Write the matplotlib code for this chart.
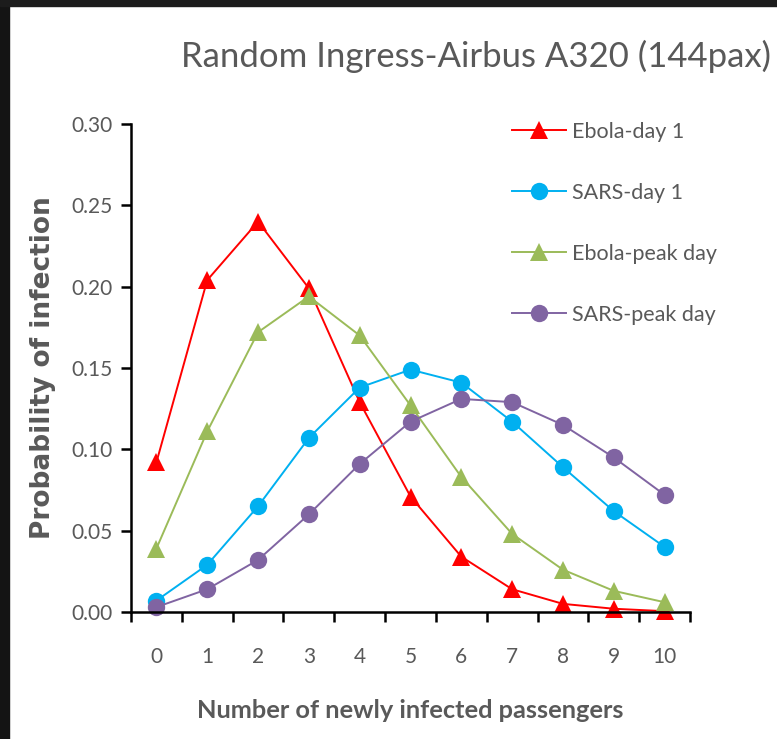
import numpy as np
import matplotlib
matplotlib.use("Agg")
import matplotlib.pyplot as plt
from matplotlib.patches import Rectangle

# values
passengers = [0, 1, 2, 3, 4, 5, 6, 7, 8, 9, 10]
ebola_day1 = [0.092, 0.204, 0.240, 0.199, 0.129, 0.071, 0.034, 0.014, 0.005, 0.002, 0.0005]
sars_day1 = [0.007, 0.029, 0.065, 0.107, 0.138, 0.149, 0.141, 0.117, 0.089, 0.062, 0.040]
ebola_peak = [0.039, 0.111, 0.172, 0.194, 0.170, 0.127, 0.083, 0.048, 0.026, 0.013, 0.006]
sars_peak = [0.003, 0.014, 0.032, 0.060, 0.091, 0.117, 0.131, 0.129, 0.115, 0.095, 0.072]
yticks = [0.00, 0.05, 0.10, 0.15, 0.20, 0.25, 0.30]

grey = "#595959"
plt.rcParams['font.family'] = ['Lato', 'DejaVu Sans']

fig = plt.figure(figsize=(7.77, 7.39), dpi=100)
ax = fig.add_axes([131 / 777, 1 - 612 / 739, (690 - 131) / 777, (612 - 124) / 739])

series = [
    (ebola_day1, "Ebola-day 1", "#FF0000", "^", 12.5),
    (sars_day1, "SARS-day 1", "#00B0F0", "o", 12.5),
    (ebola_peak, "Ebola-peak day", "#9BBB59", "^", 12.5),
    (sars_peak, "SARS-peak day", "#8064A2", "o", 12.5),
]
for vals, name, col, mk, ms in series:
    ax.plot(passengers, vals, color=col, lw=1.4, marker=mk, markersize=ms,
            markeredgewidth=0, label=name, clip_on=False)

ax.set_xlim(-0.5, 10.5)
ax.set_ylim(0, 0.30)
ax.set_yticks(yticks)
ax.set_yticklabels(["%.2f" % v for v in yticks])
ax.set_xticks(passengers)
ax.set_xticks(np.arange(-0.5, 11, 1), minor=True)
ax.tick_params(axis='x', which='major', length=0, pad=25, labelsize=15, labelcolor=grey)
ax.tick_params(axis='x', which='minor', length=7, width=1.8, direction='out')
ax.tick_params(axis='y', length=7, width=1.8, direction='out', pad=6, labelsize=15, labelcolor=grey)

for s in ["top", "right"]:
    ax.spines[s].set_visible(False)
for s in ["left", "bottom"]:
    ax.spines[s].set_linewidth(1.8)

ax.set_xlabel("Number of newly infected passengers", fontsize=18.3, fontweight='bold',
              color=grey, labelpad=23)
ax.set_ylabel("Probability of infection", fontsize=19, fontweight='bold', color=grey,
              family='DejaVu Sans', labelpad=11)

fig.text(0.613, 1 - 56 / 739, "Random Ingress-Airbus A320 (144pax)", fontsize=25,
         color=grey, ha='center', va='center')

ax.legend(loc='upper left', bbox_to_anchor=(512 / 777, 1 - 122 / 739),
          bbox_transform=fig.transFigure, frameon=False, fontsize=15.5,
          labelcolor=grey, handlelength=2.5, handletextpad=0.3, borderpad=0,
          borderaxespad=0, labelspacing=1.9)

# dark frame of the screenshot
fig.add_artist(Rectangle((0, 0), 9 / 777, 1, transform=fig.transFigure, color="#141414"))
fig.add_artist(Rectangle((0, 1 - 6 / 739), 1, 6 / 739, transform=fig.transFigure, color="#1c1c1c"))

fig.savefig("out.png", dpi=100)
